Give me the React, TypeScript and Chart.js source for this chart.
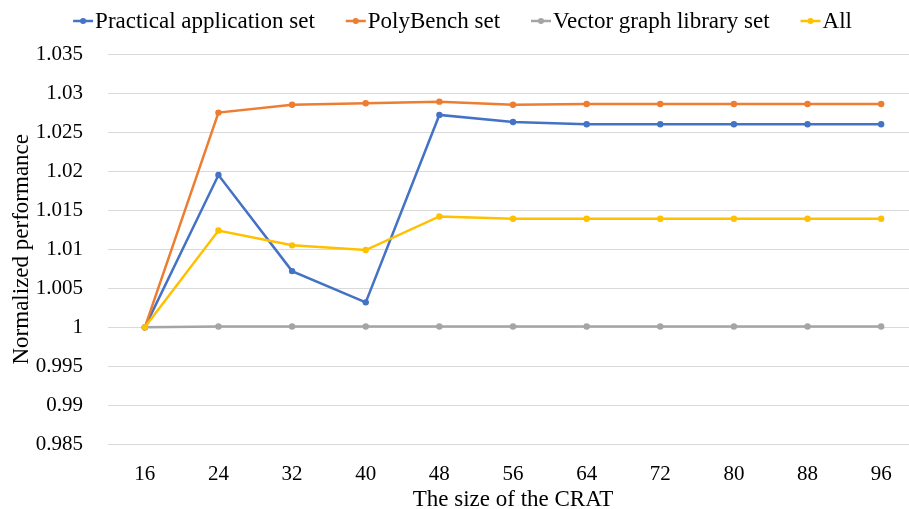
import React, { useEffect, useRef } from "react";
import { Chart, registerables } from "chart.js";

Chart.register(...registerables);

// CRAT sizes on the category axis
const sizes = ["16", "24", "32", "40", "48", "56", "64", "72", "80", "88", "96"];

// Normalized performance per benchmark set
const practical = [1.0, 1.0195, 1.0072, 1.0032, 1.0272, 1.0263, 1.026, 1.026, 1.026, 1.026, 1.026];
const polyBench = [1.0, 1.0275, 1.0285, 1.0287, 1.0289, 1.0285, 1.0286, 1.0286, 1.0286, 1.0286, 1.0286];
const vectorGraph = [1.0, 1.0001, 1.0001, 1.0001, 1.0001, 1.0001, 1.0001, 1.0001, 1.0001, 1.0001, 1.0001];
const allSets = [1.0, 1.0124, 1.0105, 1.0099, 1.0142, 1.0139, 1.0139, 1.0139, 1.0139, 1.0139, 1.0139];

const seriesNames = ["Practical application set", "PolyBench set", "Vector graph library set", "All"];
const seriesColors = ["#4472C4", "#ED7D31", "#A5A5A5", "#FFC000"];

const yMin = 0.985;
const yMax = 1.035;
const yStep = 0.005;

const FONT_FAMILY = "'Liberation Serif', 'Times New Roman', serif";
const TICK_SIZE = 21;
const TEXT_SIZE = 23;

const xTitle = "The size of the CRAT";
const yTitle = "Normalized performance";

// Legend row across the top plus the two axis titles
const decorations = {
  id: "decorations",
  afterDraw(chart: any) {
    const { ctx, chartArea } = chart;
    ctx.save();
    ctx.font = `${TEXT_SIZE}px ${FONT_FAMILY}`;
    ctx.fillStyle = "#000";
    ctx.textBaseline = "middle";

    // legend
    const lineLen = 20;
    const textGap = 2;
    const itemGap = 31;
    const items = chart.data.datasets.map((ds: any) => ({
      label: ds.label as string,
      color: ds.borderColor as string,
      w: ctx.measureText(ds.label).width,
    }));
    const total =
      items.reduce((s: number, it: any) => s + lineLen + textGap + it.w, 0) + itemGap * (items.length - 1);
    let x = 462.5 - total / 2;
    const ly = 21;
    for (const it of items) {
      ctx.strokeStyle = it.color;
      ctx.lineWidth = 2.5;
      ctx.beginPath();
      ctx.moveTo(x, ly);
      ctx.lineTo(x + lineLen, ly);
      ctx.stroke();
      ctx.fillStyle = it.color;
      ctx.beginPath();
      ctx.arc(x + lineLen / 2, ly, 3, 0, Math.PI * 2);
      ctx.fill();
      ctx.fillStyle = "#000";
      ctx.textAlign = "left";
      ctx.fillText(it.label, x + lineLen + textGap, ly + 1);
      x += lineLen + textGap + it.w + itemGap;
    }

    // x-axis title
    ctx.textAlign = "center";
    ctx.fillText(xTitle, (chartArea.left + chartArea.right) / 2, 500);

    // y-axis title
    ctx.translate(22, (chartArea.top + chartArea.bottom) / 2);
    ctx.rotate(-Math.PI / 2);
    ctx.fillText(yTitle, 0, 0);
    ctx.restore();
  },
};

export default function App() {
  const canvasRef = useRef<HTMLCanvasElement | null>(null);

  useEffect(() => {
    if (!canvasRef.current) return;
    const values = [practical, polyBench, vectorGraph, allSets];
    const chart = new Chart(canvasRef.current, {
      type: "line",
      data: {
        labels: sizes,
        datasets: values.map((data, i) => ({
          label: seriesNames[i],
          data,
          borderColor: seriesColors[i],
          backgroundColor: seriesColors[i],
          borderWidth: 2.5,
          pointRadius: 3.2,
          pointHoverRadius: 3.2,
          pointBorderWidth: 0,
          tension: 0,
          fill: false,
          order: values.length - i,
        })),
      },
      options: {
        responsive: false,
        animation: false,
        devicePixelRatio: 1,
        layout: { padding: { top: 54, right: 12, left: 0, bottom: 0 } },
        plugins: {
          legend: { display: false },
          tooltip: { enabled: false },
        },
        scales: {
          x: {
            offset: true,
            grid: { display: false, drawTicks: false },
            border: { display: false },
            ticks: {
              color: "#000",
              font: { family: FONT_FAMILY, size: TICK_SIZE },
              padding: 17,
              maxRotation: 0,
              autoSkip: false,
            },
            afterFit: (scale: any) => {
              scale.height = 64.5;
            },
          },
          y: {
            min: yMin,
            max: yMax,
            ticks: {
              stepSize: yStep,
              color: "#000",
              font: { family: FONT_FAMILY, size: TICK_SIZE },
              padding: 25,
              callback: (v: any) => String(Number(Number(v).toFixed(3))),
            },
            grid: { color: "#D9D9D9", lineWidth: 1, drawTicks: false },
            border: { display: false },
            afterFit: (scale: any) => {
              scale.width = 108;
            },
          },
        },
      },
      plugins: [decorations],
    });
    return () => chart.destroy();
  }, []);

  return (
    <div
      style={{
        position: "absolute",
        left: 0,
        top: 0,
        width: 909,
        height: 509,
        overflow: "hidden",
        background: "#fff",
      }}
    >
      <canvas ref={canvasRef} width={930} height={509} style={{ width: 930, height: 509 }} />
    </div>
  );
}
